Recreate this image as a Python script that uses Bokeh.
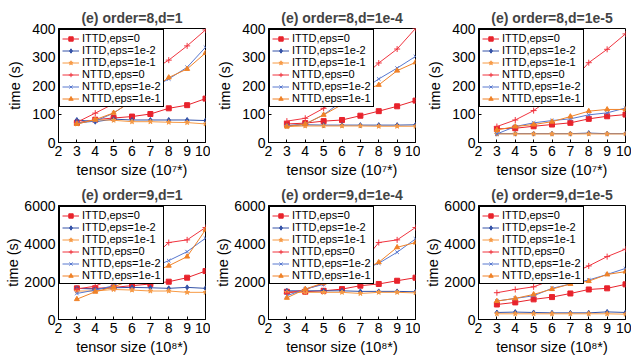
from bokeh.plotting import figure
from bokeh.layouts import column, row
from bokeh.models import FixedTicker, Range1d
from bokeh.embed import file_html
from bokeh.resources import INLINE

# ---------------- data ----------------
sizes = [3, 4, 5, 6, 7, 8, 9, 10]
x_ticks = [2, 3, 4, 5, 6, 7, 8, 9, 10]
y_ticks_o8 = [0, 100, 200, 300, 400]
y_ticks_o9 = [0, 2000, 4000, 6000]

series_labels = ["ITTD,eps=0", "ITTD,eps=1e-2", "ITTD,eps=1e-1",
                 "NTTD,eps=0", "NTTD,eps=1e-2", "NTTD,eps=1e-1"]

titles = ["(e) order=8,d=1", "(e) order=8,d=1e-4", "(e) order=8,d=1e-5",
          "(e) order=9,d=1", "(e) order=9,d=1e-4", "(e) order=9,d=1e-5"]

# order=8, d=1
o8d1_ittd_eps0 = [69, 80, 86, 91, 100, 120, 131, 154]
o8d1_ittd_eps1e2 = [79, 73, 82, 79, 79, 79, 79, 77]
o8d1_ittd_eps1e1 = [65, 80, 78, 73, 73, 71, 70, 65]
o8d1_nttd_eps0 = [71, 103, 136, 192, 249, 289, 339, 395]
o8d1_nttd_eps1e2 = [68, 75, 103, 147, 188, 223, 264, 334]
o8d1_nttd_eps1e1 = [65, 80, 104, 145, 183, 228, 258, 314]

# order=8, d=1e-4
o8d4_ittd_eps0 = [65, 68, 75, 79, 94, 110, 127, 147]
o8d4_ittd_eps1e2 = [59, 62, 61, 61, 61, 61, 61, 62]
o8d4_ittd_eps1e1 = [56, 58, 58, 58, 58, 57, 57, 57]
o8d4_nttd_eps0 = [75, 85, 120, 168, 221, 279, 328, 400]
o8d4_nttd_eps1e2 = [59, 65, 97, 145, 179, 223, 261, 302]
o8d4_nttd_eps1e1 = [56, 65, 97, 133, 179, 202, 252, 281]

# order=8, d=1e-5
o8d5_ittd_eps0 = [48, 50, 57, 63, 69, 83, 92, 98]
o8d5_ittd_eps1e2 = [31, 31, 31, 31, 31, 33, 31, 31]
o8d5_ittd_eps1e1 = [30, 30, 30, 30, 30, 30, 30, 30]
o8d5_nttd_eps0 = [56, 79, 112, 158, 209, 280, 327, 381]
o8d5_nttd_eps1e2 = [30, 56, 69, 77, 83, 97, 104, 121]
o8d5_nttd_eps1e1 = [44, 56, 63, 73, 91, 110, 116, 116]

# order=9, d=1
o9d1_ittd_eps0 = [1640, 1640, 1690, 1780, 1870, 1990, 2200, 2550]
o9d1_ittd_eps1e2 = [1640, 1600, 1670, 1690, 1670, 1640, 1690, 1640]
o9d1_ittd_eps1e1 = [1500, 1500, 1580, 1550, 1500, 1500, 1430, 1430]
o9d1_nttd_eps0 = [1600, 1760, 2160, 2650, 3170, 4050, 4190, 4840]
o9d1_nttd_eps1e2 = [1370, 1550, 1780, 2340, 2690, 3100, 3570, 4280]
o9d1_nttd_eps1e1 = [1070, 1460, 1720, 2080, 2430, 2830, 3310, 4720]

# order=9, d=1e-4
o9d4_ittd_eps0 = [1460, 1460, 1510, 1600, 1780, 1870, 2040, 2200]
o9d4_ittd_eps1e2 = [1510, 1510, 1510, 1510, 1480, 1480, 1480, 1460]
o9d4_ittd_eps1e1 = [1430, 1430, 1430, 1430, 1370, 1430, 1430, 1400]
o9d4_nttd_eps0 = [1370, 1580, 1900, 2350, 2870, 4050, 4190, 4840]
o9d4_nttd_eps1e2 = [1250, 1600, 1850, 2160, 2570, 2960, 3540, 4240]
o9d4_nttd_eps1e1 = [1140, 1600, 1930, 2220, 2550, 3010, 3800, 4050]

# order=9, d=1e-5
o9d5_ittd_eps0 = [790, 900, 1060, 1180, 1370, 1580, 1640, 1850]
o9d5_ittd_eps1e2 = [370, 390, 370, 350, 350, 350, 400, 370]
o9d5_ittd_eps1e1 = [300, 300, 300, 300, 300, 300, 300, 280]
o9d5_nttd_eps0 = [1410, 1580, 1720, 2080, 2390, 2820, 3310, 3700]
o9d5_nttd_eps1e2 = [970, 1110, 1250, 1640, 1870, 2080, 2370, 2690]
o9d5_nttd_eps1e1 = [970, 1110, 1320, 1600, 1870, 2020, 2370, 2520]

panel_data = [
    [o8d1_ittd_eps0, o8d1_ittd_eps1e2, o8d1_ittd_eps1e1, o8d1_nttd_eps0, o8d1_nttd_eps1e2, o8d1_nttd_eps1e1],
    [o8d4_ittd_eps0, o8d4_ittd_eps1e2, o8d4_ittd_eps1e1, o8d4_nttd_eps0, o8d4_nttd_eps1e2, o8d4_nttd_eps1e1],
    [o8d5_ittd_eps0, o8d5_ittd_eps1e2, o8d5_ittd_eps1e1, o8d5_nttd_eps0, o8d5_nttd_eps1e2, o8d5_nttd_eps1e1],
    [o9d1_ittd_eps0, o9d1_ittd_eps1e2, o9d1_ittd_eps1e1, o9d1_nttd_eps0, o9d1_nttd_eps1e2, o9d1_nttd_eps1e1],
    [o9d4_ittd_eps0, o9d4_ittd_eps1e2, o9d4_ittd_eps1e1, o9d4_nttd_eps0, o9d4_nttd_eps1e2, o9d4_nttd_eps1e1],
    [o9d5_ittd_eps0, o9d5_ittd_eps1e2, o9d5_ittd_eps1e1, o9d5_nttd_eps0, o9d5_nttd_eps1e2, o9d5_nttd_eps1e1],
]

# ---------------- style ----------------
colors = ["#e8232c", "#3553a8", "#f79a45", "#f0343f", "#5878cf", "#f08228"]
markers = ["square", "diamond", "star", "cross", "x", "triangle"]
msizes = [5, 5, 5, 6, 5, 5]
FONT = "Liberation Sans"


def make_panel(idx):
    top = idx < 3
    width = 211 if idx % 3 == 2 else 210
    ymax = 400 if top else 6000
    p = figure(width=width, height=181,
               x_range=Range1d(2, 10), y_range=Range1d(0, ymax),
               output_backend="svg", toolbar_location=None,
               min_border_left=58, min_border_right=width - 58 - 147,
               min_border_top=28 if top else 24,
               min_border_bottom=39 if top else 43)
    p.background_fill_color = "white"
    p.border_fill_color = "white"
    p.xgrid.visible = False
    p.ygrid.visible = False
    p.outline_line_color = "black"
    p.outline_line_width = 1
    p.outline_line_alpha = 1

    p.title.text = titles[idx]
    p.title.text_font = FONT
    p.title.text_font_size = "14px"
    p.title.text_font_style = "bold"
    p.title.align = "center"
    p.title.standoff = 6 if top else 5

    for ax in (p.xaxis[0], p.yaxis[0]):
        ax.axis_line_color = "black"
        ax.major_tick_line_color = "black"
        ax.major_tick_in = 3
        ax.major_tick_out = 0
        ax.minor_tick_line_color = None
        ax.major_label_text_font = FONT
        ax.major_label_text_font_size = "14px"
        ax.major_label_text_color = "black"
        ax.axis_label_text_font = FONT
        ax.axis_label_text_font_size = "14.5px"
        ax.axis_label_text_font_style = "normal"
        ax.axis_label_text_color = "black"
        ax.major_label_standoff = 3

    p.xaxis.ticker = FixedTicker(ticks=x_ticks)
    p.yaxis.ticker = FixedTicker(ticks=y_ticks_o8 if top else y_ticks_o9)
    p.xaxis.axis_label = "tensor size (10⁷*)" if top else "tensor size (10⁸*)"
    p.yaxis.axis_label = "time (s)"
    p.xaxis.axis_label_standoff = 3
    p.yaxis.axis_label_standoff = 6 if top else 0

    for s in range(6):
        ys = panel_data[idx][s]
        lab = series_labels[s]
        p.line(sizes, ys, line_color=colors[s], line_width=1, legend_label=lab)
        p.scatter(sizes, ys, marker=markers[s], size=msizes[s],
                  line_color=colors[s], fill_color=colors[s], line_width=1,
                  legend_label=lab)

    lg = p.legend[0]
    lg.location = "top_left"
    lg.margin = 1
    lg.padding = 2
    lg.spacing = 0
    lg.label_height = 11
    lg.glyph_height = 11
    lg.glyph_width = 17
    lg.label_standoff = 3
    lg.label_text_font = FONT
    lg.label_text_font_size = "11px"
    lg.label_text_color = "black"
    lg.label_text_line_height = 1.0
    lg.border_line_color = "black"
    lg.border_line_width = 1
    lg.border_line_alpha = 1
    lg.background_fill_color = "white"
    lg.background_fill_alpha = 1
    return p


figs = [make_panel(i) for i in range(6)]
layout = column(row(*figs[:3]), row(*figs[3:]))

open("out.html", "w").write(file_html(layout, INLINE))
